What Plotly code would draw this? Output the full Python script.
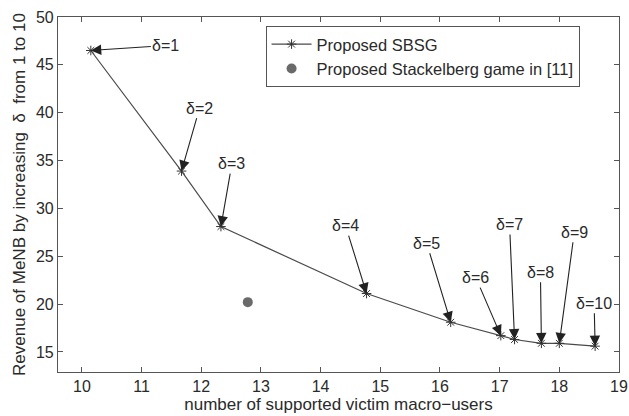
import plotly.graph_objects as go

# data
users = [10.15, 11.67, 12.33, 14.77, 16.18, 17.02, 17.25, 17.70, 18.00, 18.60]
revenue = [46.5, 33.9, 28.1, 21.1, 18.1, 16.7, 16.3, 15.9, 15.9, 15.6]
delta_labels = ["δ=1", "δ=2", "δ=3", "δ=4", "δ=5", "δ=6", "δ=7", "δ=8", "δ=9", "δ=10"]
stack_x = [12.78]
stack_y = [20.2]
x_ticks = [10, 11, 12, 13, 14, 15, 16, 17, 18, 19]
y_ticks = [15, 20, 25, 30, 35, 40, 45, 50]

# annotation text offsets (pixels) for each label
label_ax = [75, 18, 11, -21, -24, -25, -5, -1, 15, -1]
label_ay = [-5, -63, -63, -68, -79, -58, -115, -71, -111, -43]

FONT = "Liberation Sans, Arial, sans-serif"
TXT = "#2a2a2a"
AX = "#555555"

fig = go.Figure()
fig.add_trace(go.Scatter(
    x=users, y=revenue, mode="lines+markers", name="Proposed SBSG",
    line=dict(color="#4a4a4a", width=1.2),
    marker=dict(symbol="asterisk-open", size=8, color="#333333",
                line=dict(color="#333333", width=1)),
))
fig.add_trace(go.Scatter(
    x=stack_x, y=stack_y, mode="markers", name="Proposed Stackelberg game in [11]",
    marker=dict(symbol="circle", size=10, color="#6a6a6a"),
))

for x, y, t, ax, ay in zip(users, revenue, delta_labels, label_ax, label_ay):
    fig.add_annotation(
        x=x, y=y, text=t, ax=ax, ay=ay, showarrow=True,
        arrowhead=2, arrowsize=1.9, arrowwidth=1.1, arrowcolor="#222222",
        standoff=0, startstandoff=0,
        font=dict(family=FONT, size=16, color=TXT),
    )

axis_common = dict(
    showgrid=False, zeroline=False, showline=True, linecolor=AX, linewidth=1.2,
    mirror="ticks", ticks="inside", ticklen=5, tickcolor=AX,
    tickfont=dict(family=FONT, size=16, color=TXT),
    ticklabeloverflow="allow", automargin=False,
)
fig.update_xaxes(range=[9.6, 19.0001], tickvals=x_ticks,
                 title=dict(text="number of supported victim macro−users",
                            font=dict(family=FONT, size=17, color=TXT), standoff=3),
                 **axis_common)
fig.update_yaxes(range=[12.9, 50.0001], tickvals=y_ticks,
                 title=dict(text="Revenue of MeNB by increasing  δ  from 1 to 10",
                            font=dict(family=FONT, size=17, color=TXT), standoff=5),
                 **axis_common)

fig.update_layout(
    width=629, height=416,
    margin=dict(l=58, r=10, t=17, b=44),
    plot_bgcolor="white", paper_bgcolor="white",
    showlegend=True,
    legend=dict(x=0.37, y=0.975, xanchor="left", yanchor="top",
                bgcolor="white", bordercolor=AX, borderwidth=1,
                font=dict(family=FONT, size=16.5, color=TXT),
                tracegroupgap=0, itemwidth=40),
)

fig.write_html("out.html")
